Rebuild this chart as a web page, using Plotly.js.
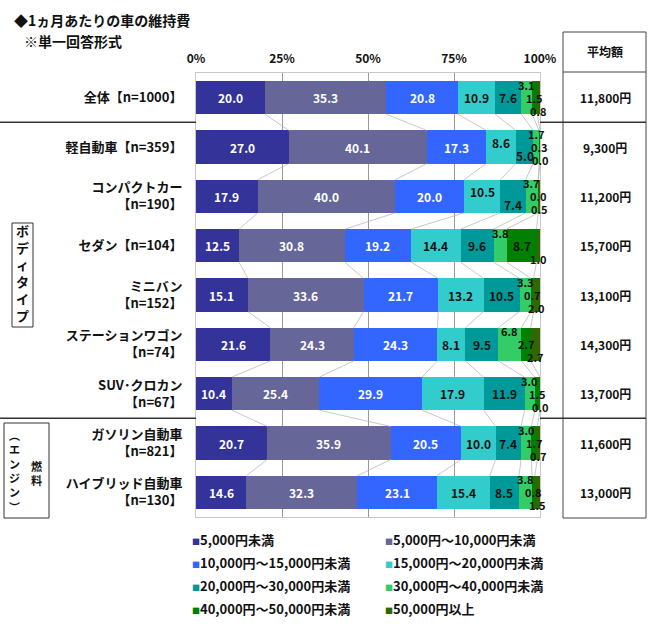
<!DOCTYPE html>
<html>
<head>
<meta charset="utf-8">
<script src="https://cdn.plot.ly/plotly-3.0.1.min.js"></script>
<style>html,body{margin:0;padding:0;background:#fff}#chart{width:650px;height:629px}</style>
</head>
<body>
<div id="chart"></div>
<script>
// ---- data ----
const categories = ['全体【n=1000】','軽自動車【n=359】','コンパクトカー<br>【n=190】','セダン【n=104】','ミニバン<br>【n=152】','ステーションワゴン<br>【n=74】','SUV･クロカン<br>【n=67】','ガソリン自動車<br>【n=821】','ハイブリッド自動車<br>【n=130】'];
const seriesNames = ['5,000円未満','5,000円～10,000円未満','10,000円～15,000円未満','15,000円～20,000円未満','20,000円～30,000円未満','30,000円～40,000円未満','40,000円～50,000円未満','50,000円以上'];
const under5k  = [20.0, 27.0, 17.9, 12.5, 15.1, 21.6, 10.4, 20.7, 14.6];
const k5to10   = [35.3, 40.1, 40.0, 30.8, 33.6, 24.3, 25.4, 35.9, 32.3];
const k10to15  = [20.8, 17.3, 20.0, 19.2, 21.7, 24.3, 29.9, 20.5, 23.1];
const k15to20  = [10.9,  8.6, 10.5, 14.4, 13.2,  8.1, 17.9, 10.0, 15.4];
const k20to30  = [ 7.6,  5.0,  7.4,  9.6, 10.5,  9.5, 11.9,  7.4,  8.5];
const k30to40  = [ 3.1,  1.7,  3.7,  3.8,  3.3,  6.8,  3.0,  3.0,  3.8];
const k40to50  = [ 1.5,  0.3,  0.0,  8.7,  0.7,  2.7,  1.5,  1.7,  0.8];
const over50k  = [ 0.8,  0.0,  0.5,  1.0,  2.0,  2.7,  0.0,  0.7,  1.5];
const averages = ['11,800円','9,300円','11,200円','15,700円','13,100円','14,300円','13,700円','11,600円','13,000円'];
const tableHeader = '平均額';
const xTickVals = [0, 25, 50, 75, 100];
const xTickText = ['0%','25%','50%','75%','100%'];
const titleLine1 = '◆1ヵ月あたりの車の維持費';
const titleLine2 = '※単一回答形式';
const groupBody = ['ボ','デ','ィ','タ','イ','プ'];
const groupEngineA = ['︵','エ','ン','ジ','ン','︶'];
const groupEngineB = ['燃','料'];

// ---- styles ----
const allSeries = [under5k, k5to10, k10to15, k15to20, k20to30, k30to40, k40to50, over50k];
const colors = ['#333399','#666699','#3366ff','#33cccc','#009999','#33cc66','#008000','#336600'];
const textColors = ['#ffffff','#ffffff','#ffffff','#111111','#111111','#111111','#111111','#111111'];
const FONT = '"Noto Sans CJK JP", "Noto Sans", sans-serif';
const BW = 0.67;
const rows = categories.map((_, i) => i);

// plot pixel geometry helpers (layout only)
const L = 196, R = 540, T = 73, B = 517;
const px = v => (v - L) / (R - L);
const py = v => (B - v) / (B - T);

const traces = [];
allSeries.forEach((vals, k) => {
  traces.push({
    type: 'bar', orientation: 'h', name: seriesNames[k],
    x: vals, y: rows, width: BW,
    marker: {color: colors[k], line: {width: 0}},
    showlegend: false, hoverinfo: 'x+name'
  });
});

// cumulative sums
const cum = rows.map(i => { let s = 0; return allSeries.map(v => { s += v[i]; return s; }); });

// series lines between adjacent bars
for (let k = 0; k < 7; k++) {
  const xs = [], ys = [];
  for (let i = 0; i < rows.length - 1; i++) {
    xs.push(cum[i][k], cum[i + 1][k], null);
    ys.push(i + BW / 2, i + 1 - BW / 2, null);
  }
  traces.push({type: 'scatter', mode: 'lines', x: xs, y: ys, line: {color: '#b0b0b0', width: 0.7},
    showlegend: false, hoverinfo: 'skip'});
}

const annotations = [];
function ann(o) {
  annotations.push(Object.assign({showarrow: false, xanchor: 'center', yanchor: 'middle'}, o));
}
const bold = (size, color) => ({family: FONT, size: size, color: color || '#111', weight: 'bold'});

// bar value labels
allSeries.forEach((vals, k) => {
  rows.forEach(i => {
    const v = vals[i];
    const start = cum[i][k] - v;
    let yshift = 0, size = 12;
    if (k >= 5 && v < 8) { yshift = (k === 5 ? 13 : (k === 7 ? -13 : 0)); size = 11; }
    // crowded right end: nudge the 15k-20k / 20k-30k labels apart
    const crowded = allSeries[4][i] < 8 && cum[i][4] > 95;
    if (crowded && k === 3) yshift = 5;
    if (crowded && k === 4) yshift = -8;
    ann({x: start + v / 2, y: i, xref: 'x', yref: 'y', text: v.toFixed(1), yshift: yshift,
      font: bold(size, textColors[k])});
  });
});

// table values
rows.forEach(i => {
  ann({x: px(605), y: i, xref: 'paper', yref: 'y', text: averages[i], font: bold(12)});
});
ann({x: px(605), y: py(52), xref: 'paper', yref: 'paper', text: tableHeader, font: bold(12)});

// titles
ann({x: px(12), y: py(20), xref: 'paper', yref: 'paper', xanchor: 'left', text: titleLine1, font: bold(14)});
ann({x: px(22), y: py(41), xref: 'paper', yref: 'paper', xanchor: 'left', text: titleLine2, font: bold(14)});

// group labels (vertical, one character per line)
ann({x: px(22.5), y: py(273), xref: 'paper', yref: 'paper', text: groupBody.join('<br>'), font: bold(13)});
ann({x: px(14.5), y: py(471), xref: 'paper', yref: 'paper', text: groupEngineA.join('<br>'), font: bold(11)});
ann({x: px(36), y: py(473), xref: 'paper', yref: 'paper', text: groupEngineB.join('<br>'), font: bold(11)});

// legend (two columns)
seriesNames.forEach((name, k) => {
  const col = k % 2, row = Math.floor(k / 2);
  ann({x: px(col === 0 ? 190 : 383), y: py(539 + row * 23), xref: 'paper', yref: 'paper',
    xanchor: 'left',
    text: '<span style="color:' + colors[k] + ';font-size:8px">■</span>' + name,
    font: bold(13)});
});

const shapes = [
  // table box
  {type: 'rect', xref: 'paper', yref: 'paper', x0: px(563), x1: px(646), y0: py(518), y1: py(32),
   line: {color: '#444', width: 1}},
  {type: 'line', xref: 'paper', yref: 'paper', x0: px(563), x1: px(646), y0: py(72), y1: py(72),
   line: {color: '#444', width: 1}},
  // group boxes
  {type: 'rect', xref: 'paper', yref: 'paper', x0: px(12), x1: px(33), y0: py(327), y1: py(223),
   line: {color: '#333', width: 1}},
  {type: 'rect', xref: 'paper', yref: 'paper', x0: px(4), x1: px(49), y0: py(518), y1: py(423),
   line: {color: '#333', width: 1}}
];
[0.5, 6.5].forEach(yv => {
  shapes.push({type: 'line', xref: 'paper', yref: 'y', x0: px(0), x1: px(L), y0: yv, y1: yv,
    line: {color: '#333', width: 1.5}});
  shapes.push({type: 'line', xref: 'paper', yref: 'y', x0: 1, x1: px(646), y0: yv, y1: yv,
    line: {color: '#333', width: 1.5}});
});

const layout = {
  width: 650, height: 629,
  margin: {l: L, r: 650 - R, t: T, b: 629 - B, pad: 0},
  paper_bgcolor: '#fff', plot_bgcolor: '#fff',
  barmode: 'stack',
  showlegend: false,
  font: {family: FONT, color: '#111'},
  xaxis: {
    side: 'top', range: [0, 100], tickvals: xTickVals, ticktext: xTickText,
    showgrid: true, gridcolor: '#999', gridwidth: 1, zeroline: false,
    showline: true, mirror: true, linecolor: '#c8c8c8', linewidth: 1,
    ticks: '', ticklabelstandoff: 4,
    tickfont: bold(12), fixedrange: true
  },
  yaxis: {
    range: [8.5, -0.5], tickvals: rows, ticktext: categories,
    showgrid: false, zeroline: false, showline: true, mirror: true, linecolor: '#c8c8c8',
    ticks: '', ticklabelstandoff: 10,
    tickfont: bold(13), fixedrange: true
  },
  annotations: annotations,
  shapes: shapes
};

Plotly.newPlot('chart', traces, layout, {displayModeBar: false, staticPlot: true});
</script>
</body>
</html>
